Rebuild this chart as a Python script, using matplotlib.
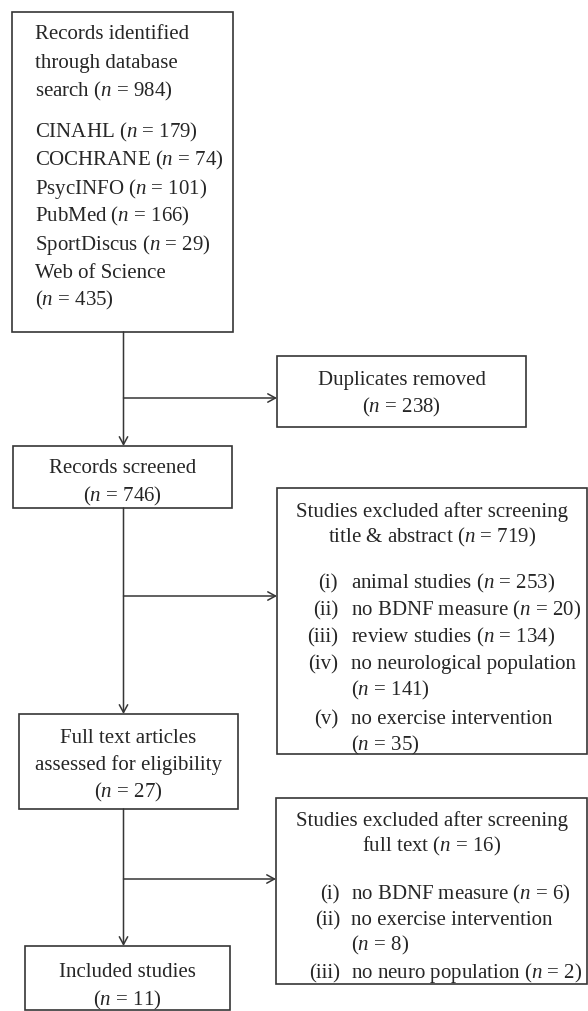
import matplotlib
matplotlib.use("Agg")
import matplotlib.pyplot as plt
from matplotlib.patches import Rectangle

plt.rcParams['font.family'] = 'Liberation Serif'
plt.rcParams['mathtext.fontset'] = 'custom'
plt.rcParams['mathtext.rm'] = 'Liberation Serif'
plt.rcParams['mathtext.it'] = 'Liberation Serif:italic'

# Data
identified_n = 984
databases = ["CINAHL", "COCHRANE", "PsycINFO", "PubMed", "SportDiscus", "Web of Science"]
database_n = [179, 74, 101, 166, 29, 435]
duplicates_n = 238
screened_n = 746
excluded_screen_n = 719
screen_reasons = ["animal studies", "no BDNF measure", "review studies",
                  "no neurological population", "no exercise intervention"]
screen_reason_n = [253, 20, 134, 141, 35]
fulltext_n = 27
excluded_fulltext_n = 16
fulltext_reasons = ["no BDNF measure", "no exercise intervention", "no neuro population"]
fulltext_reason_n = [6, 8, 2]
included_n = 11
numerals = ["(i)", "(ii)", "(iii)", "(iv)", "(v)"]

EDGE = "#363636"
TXT = "#262626"
FS = 15


def nlab(n):
    return "($n$ = %d)" % n


fig = plt.figure(figsize=(5.88, 10.12), dpi=100)
ax = fig.add_axes([0, 0, 1, 1])
ax.set_xlim(0, 588)
ax.set_ylim(1012, 0)
ax.axis("off")


def box(x0, y0, x1, y1):
    ax.add_patch(Rectangle((x0, y0), x1 - x0, y1 - y0, fill=False,
                           edgecolor=EDGE, linewidth=1.2))


def txt(x, y, s, ha="center"):
    ax.text(x, y + 6, s, ha=ha, va="baseline", fontsize=FS, color=TXT)


def arrow(x0, y0, x1, y1):
    ax.annotate("", xy=(x1, y1), xytext=(x0, y0),
                arrowprops=dict(arrowstyle="->,head_length=0.55,head_width=0.3",
                                color=EDGE, lw=1.1, shrinkA=0, shrinkB=0))


def items(reasons, counts, x_num, x_txt, y, step=27, cont=26):
    for num, r, c in zip(numerals, reasons, counts):
        txt(x_num, y, num, ha="right")
        if len(r) > 20:
            txt(x_txt, y, r, ha="left")
            txt(x_txt, y + cont, nlab(c), ha="left")
            y += cont + step + 2
        else:
            txt(x_txt, y, r + " " + nlab(c), ha="left")
            y += step


xm = 123.5

# Records identified
box(12, 13, 233, 333)
y = 33
for s in ["Records identified", "through database", "search " + nlab(identified_n)]:
    txt(35, y, s, ha="left")
    y += 28.5
y += 13
for name, c in zip(databases, database_n):
    if len(name) > 12:
        txt(35, y, name, ha="left")
        y += 28
        txt(35, y, nlab(c), ha="left")
    else:
        txt(35, y, name + " " + nlab(c), ha="left")
    y += 28

# Duplicates
box(277, 357, 526, 428)
txt(401.5, 379, "Duplicates removed")
txt(401.5, 406, nlab(duplicates_n))

# Records screened
box(13, 447, 232, 509)
txt(122.5, 467, "Records screened")
txt(122.5, 495, nlab(screened_n))

# Excluded after title/abstract
box(277, 489, 587, 755)
txt(432, 511, "Studies excluded after screening")
txt(432, 536, "title & abstract " + nlab(excluded_screen_n))
items(screen_reasons, screen_reason_n, 338, 351, 582)

# Full text
box(19, 715, 238, 810)
txt(128.5, 737, "Full text articles")
txt(128.5, 764, "assessed for eligibility")
txt(128.5, 791, nlab(fulltext_n))

# Excluded after full text
box(276, 799, 587, 985)
txt(431.5, 820, "Studies excluded after screening")
txt(431.5, 845, "full text " + nlab(excluded_fulltext_n))
items(fulltext_reasons, fulltext_reason_n, 340, 351, 893, step=26, cont=25)

# Included
box(25, 947, 230, 1011)
txt(127.5, 971, "Included studies")
txt(127.5, 999, nlab(included_n))

# Arrows
arrow(xm, 333, xm, 447)
arrow(xm, 399, 277, 399)
arrow(xm, 509, xm, 715)
arrow(xm, 597, 277, 597)
arrow(xm, 810, xm, 947)
arrow(xm, 880, 276, 880)

fig.savefig("out.png", dpi=100, facecolor="white")
